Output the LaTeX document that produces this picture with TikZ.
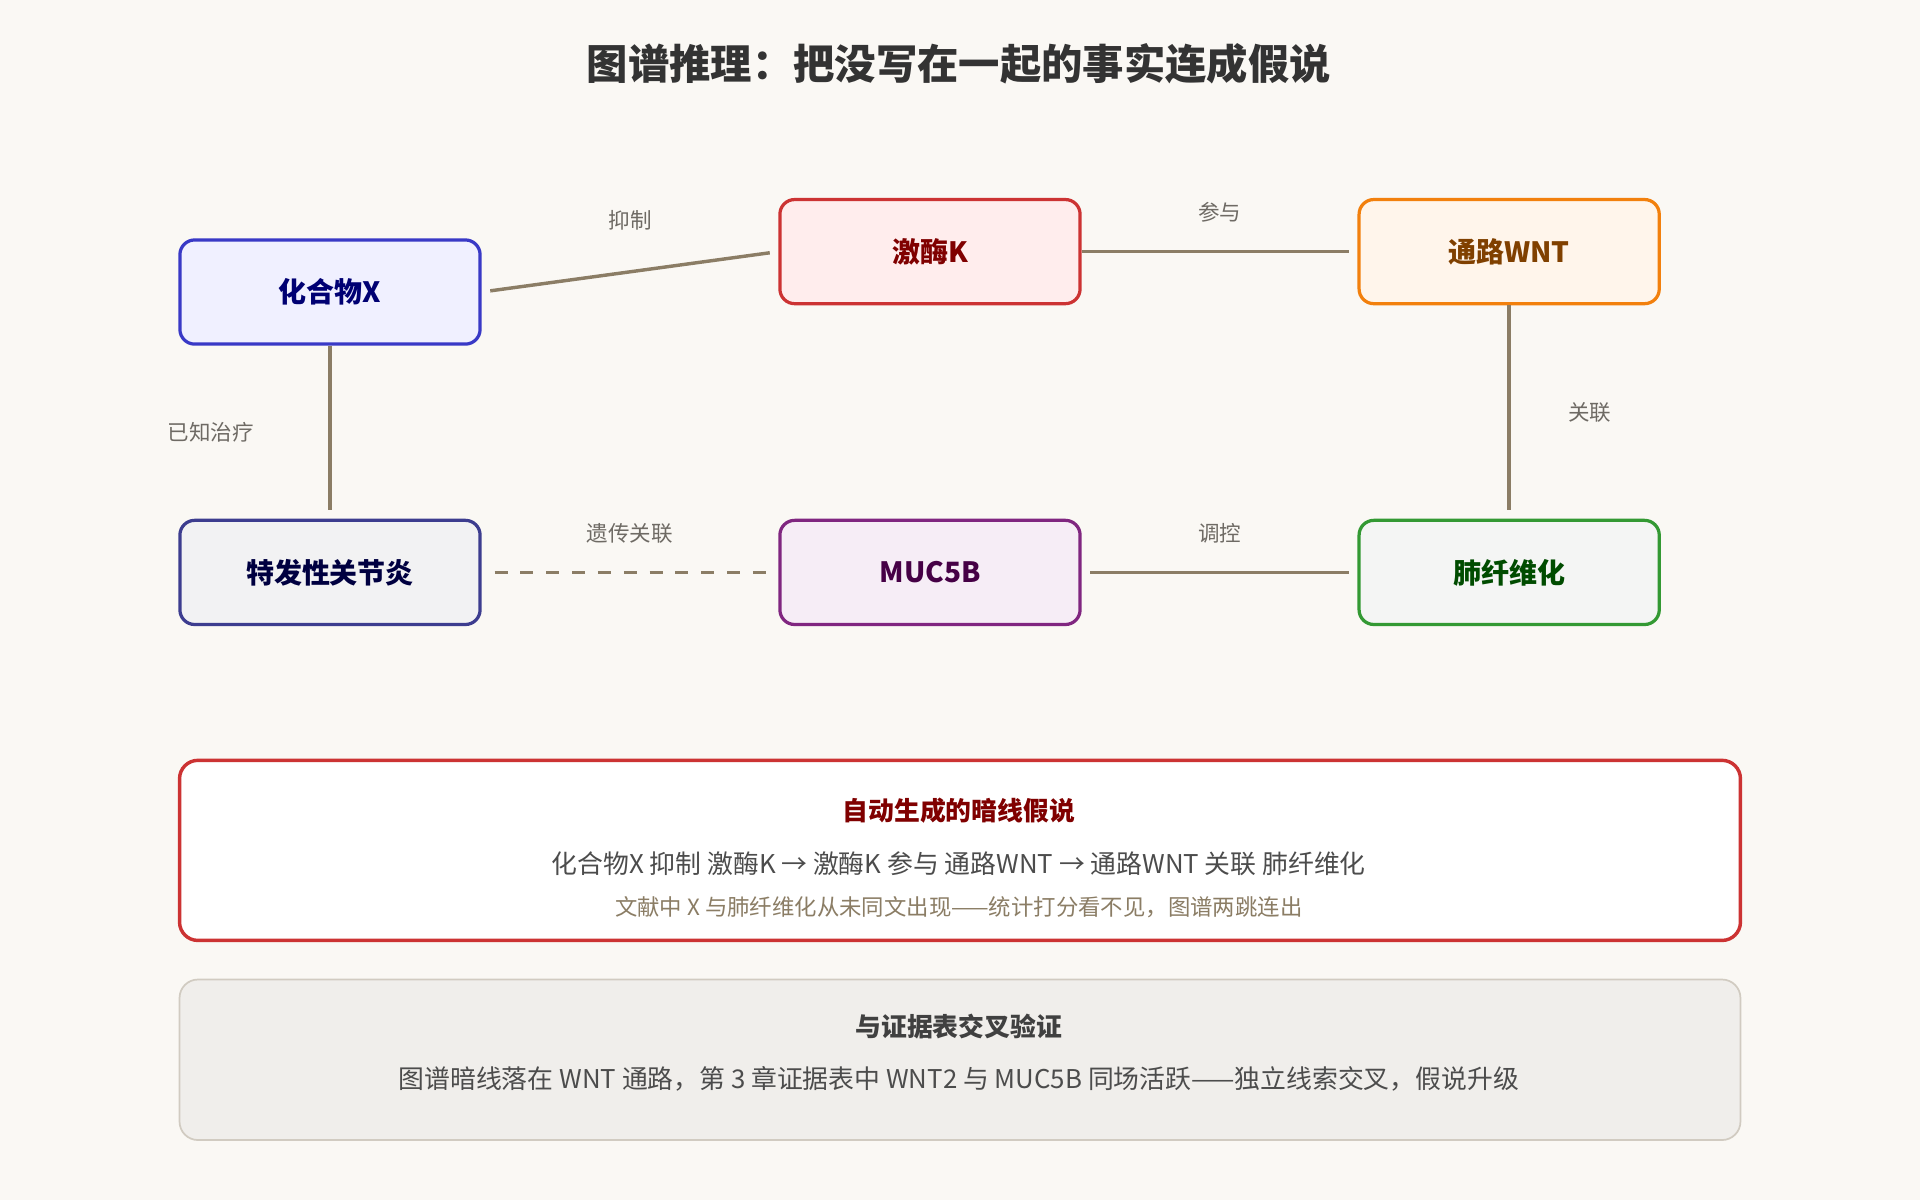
\documentclass[tikz,border=0pt]{standalone}
\usepackage{fontspec}
\setmainfont{Noto Sans CJK SC}
\usetikzlibrary{positioning}
\definecolor{bg}{HTML}{FAF8F4}
\definecolor{edgec}{HTML}{8B7D65}
\definecolor{labelc}{HTML}{6E6A64}
\begin{document}
\begin{tikzpicture}[x=0.01cm, y=-0.01cm]
            \tikzstyle{state} = [draw, rounded corners=0.12cm, line width=0.75pt, minimum width=2.45cm, minimum height=0.85cm, text centered, font=\fontsize{6.5}{8}\selectfont\bfseries]
            \tikzstyle{link} = [draw=edgec, line width=0.8pt]
            \tikzstyle{lbl} = [text=labelc, font=\fontsize{5}{6}\selectfont]

            \fill[bg] (0,0) rectangle (1568,980);
            \useasboundingbox (0,0) rectangle (1568,980);

            \node[text=black!80, font=\fontsize{9.6}{11}\selectfont\bfseries] (title) at (783,52) {图谱推理：把没写在一起的事实连成假说};

            % Nodes
            \node[state, draw=blue!55!gray, fill=blue!6, text=blue!45!black] (X) at (269.5,238.5) {化合物X};
            \node[state, draw=red!60!gray, fill=red!7, text=red!50!black] (K) at (759.5,205.5) {激酶K};
            \node[state, draw=orange!80!brown, fill=orange!8, text=orange!50!black] (WNT) at (1232.5,205.5) {通路WNT};
            \node[state, draw=gray!60!blue!80!black, fill=blue!4!gray!10, text=black!75!blue] (D) at (269.5,467.5) {特发性关节炎};
            \node[state, draw=violet!70!gray, fill=violet!7, text=violet!55!black] (M) at (759.5,467.5) {MUC5B};
            \node[state, draw=green!50!black!80, fill=green!5!gray!8, text=green!30!black] (L) at (1232.5,467.5) {肺纤维化};

            % Edges
            \path[link, shorten <=2pt, shorten >=2pt] (X.east) -- node[lbl, above, pos=0.5, yshift=6pt] {抑制} (K.west);
            \path[link, shorten >=2pt] (K) -- node[lbl, above, yshift=3pt] {参与} (WNT);
            \path[link, shorten >=2pt] (WNT) -- node[lbl, right, xshift=10pt] {关联} (L);
            \path[link, shorten >=2pt] (X) -- node[lbl, left, xshift=-14pt] {已知治疗} (D);
            \path[link, dashed, shorten <=3pt, shorten >=2pt] (D.east) -- node[lbl, above, yshift=3pt] {遗传关联} (M.west);
            \path[link, shorten <=2pt, shorten >=2pt] (M) -- node[lbl, above, yshift=3pt] {调控} (L);

            % Hypothesis box
            \node[draw=red!60!gray, line width=0.8pt, fill=white, rounded corners=0.15cm, minimum width=12.74cm, minimum height=1.47cm] (hyp) at (784,694.5) {};
            \node[text=red!50!black, font=\fontsize{6}{7}\selectfont\bfseries] (hypT) at (783,662) {自动生成的暗线假说};
            \node[text=black!70, font=\fontsize{6}{7}\selectfont] (hypA) at (783,705) {化合物X 抑制 激酶K → 激酶K 参与 通路WNT → 通路WNT 关联 肺纤维化};
            \node[text=edgec, font=\fontsize{5.2}{6}\selectfont] (hypB) at (783,741) {文献中 X 与肺纤维化从未同文出现——统计打分看不见，图谱两跳连出};

            % Cross-check box
            \node[draw=edgec!40, line width=0.4pt, fill=edgec!13, rounded corners=0.15cm, minimum width=12.74cm, minimum height=1.31cm] (chk) at (784,865.5) {};
            \node[text=black!75, font=\fontsize{6}{7}\selectfont\bfseries] (chkT) at (783,838) {与证据表交叉验证};
            \node[text=black!70, font=\fontsize{6}{7}\selectfont] (chkA) at (783,881) {图谱暗线落在 WNT 通路，第 3 章证据表中 WNT2 与 MUC5B 同场活跃——独立线索交叉，假说升级};

        \end{tikzpicture}
\end{document}
